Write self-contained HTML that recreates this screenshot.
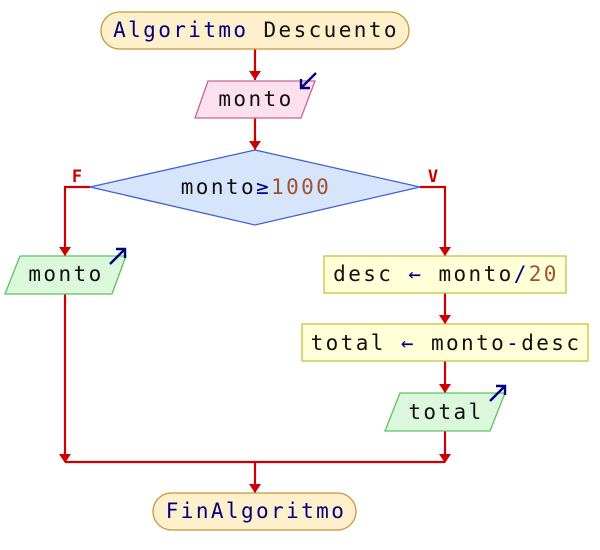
<!DOCTYPE html>
<html><head><meta charset="utf-8"><style>
html,body{margin:0;padding:0;background:#fff;width:600px;height:550px;overflow:hidden}
text{font-family:"DejaVu Sans Mono","Liberation Mono",monospace;font-size:21px;letter-spacing:2.4px;fill:#111}
.k{fill:#000080}.n{fill:#a0522d}
</style></head><body>
<svg width="600" height="550" xmlns="http://www.w3.org/2000/svg">
<g stroke="#cc0000" stroke-width="2.2" fill="none">
<line x1="255" y1="49" x2="255" y2="80"/>
<line x1="255" y1="118" x2="255" y2="150"/>
<polyline points="90,187 65,187 65,256"/>
<polyline points="420,187 445,187 445,256"/>
<line x1="445" y1="293" x2="445" y2="324"/>
<line x1="445" y1="361" x2="445" y2="393"/>
<line x1="65" y1="294" x2="65" y2="462"/>
<line x1="445" y1="431" x2="445" y2="462"/>
<line x1="65" y1="462" x2="445" y2="462"/>
<line x1="255" y1="462" x2="255" y2="493"/>
</g>
<g fill="#cc0000">
<path d="M249,71 L261,71 L255,80Z"/><path d="M249,141 L261,141 L255,150Z"/>
<path d="M59,247 L71,247 L65,256Z"/><path d="M439,247 L451,247 L445,256Z"/>
<path d="M439,315 L451,315 L445,324Z"/><path d="M439,384 L451,384 L445,393Z"/>
<path d="M59,454 L71,454 L65,463Z"/><path d="M439,454 L451,454 L445,463Z"/>
<path d="M249,484 L261,484 L255,493Z"/>
</g>
<rect x="101" y="12" width="308" height="37" rx="18.5" fill="#fff0cc" stroke="#c8963c" stroke-width="1.3"/>
<text x="256" y="37" text-anchor="middle"><tspan class="k">Algoritmo</tspan> Descuento</text>
<polygon points="208,81 315,81 301,118 195,118" fill="#fde0ee" stroke="#c86490" stroke-width="1.3"/>
<text x="256" y="106" text-anchor="middle">monto</text>
<g stroke="#000080" stroke-width="2.4" fill="none"><line x1="316" y1="73" x2="301" y2="88"/><polyline points="301,79 301,88 310,88"/></g>
<polygon points="255,150 420,187 255,225 90,187" fill="#d6e4fc" stroke="#4060d0" stroke-width="1.3"/>
<text x="256" y="194" text-anchor="middle">monto<tspan class="k">≥</tspan><tspan class="n">1000</tspan></text>
<text x="77" y="182" text-anchor="middle" style="fill:#cc0000;font-weight:bold;font-size:17px;letter-spacing:0">F</text>
<text x="433" y="182" text-anchor="middle" style="fill:#cc0000;font-weight:bold;font-size:17px;letter-spacing:0">V</text>
<polygon points="20,256 126,256 112,294 5,294" fill="#dcf8dc" stroke="#60c060" stroke-width="1.3"/>
<text x="66" y="281" text-anchor="middle">monto</text>
<g stroke="#000080" stroke-width="2.4" fill="none"><line x1="110" y1="264" x2="125" y2="249"/><polyline points="116,249 125,249 125,258"/></g>
<rect x="324" y="256" width="242" height="37" fill="#ffffd8" stroke="#c8c040" stroke-width="1.3"/>
<text x="446" y="281" text-anchor="middle">desc <tspan class="k">←</tspan> monto<tspan class="k">/</tspan><tspan class="n">20</tspan></text>
<rect x="302" y="324" width="286" height="37" fill="#ffffd8" stroke="#c8c040" stroke-width="1.3"/>
<text x="446" y="350" text-anchor="middle">total <tspan class="k">←</tspan> monto<tspan class="k">-</tspan>desc</text>
<polygon points="400,393 505,393 490,431 385,431" fill="#dcf8dc" stroke="#60c060" stroke-width="1.3"/>
<text x="446" y="419" text-anchor="middle">total</text>
<g stroke="#000080" stroke-width="2.4" fill="none"><line x1="490" y1="401" x2="505" y2="386"/><polyline points="496,386 505,386 505,395"/></g>
<rect x="153" y="493" width="203" height="37" rx="18.5" fill="#fff0cc" stroke="#c8963c" stroke-width="1.3"/>
<text x="256" y="518" text-anchor="middle" class="k">FinAlgoritmo</text>
</svg>
</body></html>
